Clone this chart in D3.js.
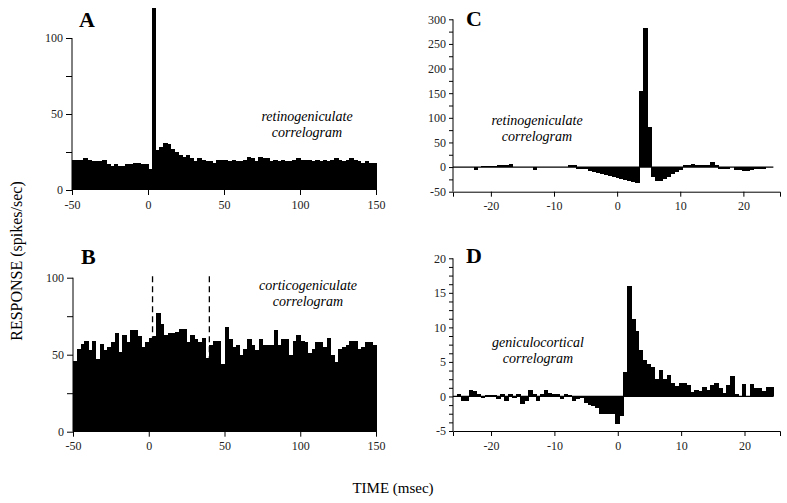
<!DOCTYPE html>
<html>
<head>
<meta charset="utf-8">
<script src="https://cdn.jsdelivr.net/npm/d3@7"></script>
<style>
  body { margin: 0; background: #fff; }
  svg text { font-family: "Liberation Serif", "DejaVu Serif", serif; }
</style>
</head>
<body>
<script>
// Panel A: retinogeniculate, 2.5 ms bins from -50 to 150
var binsA_start = -50, binsA_width = 2.5;
var valuesA = [20,20,20,21,20,19,19,19,20,17,16,17,16,16,17,17,18,18,17,17,
  14,120,26,28,31,30,27,25,23,22,
  23,21,19,21,20,19,19,18,20,20,
  20,19,20,19,19,20,22,21,19,22,
  21,21,19,20,19,20,19,19,20,21,
  20,20,20,19,20,19,20,19,20,21,
  20,19,20,21,20,19,18,19,18,18];

// Panel B: corticogeniculate, 2.5 ms bins from -50 to 150
var binsB_start = -50, binsB_width = 2.5;
var valuesB = [46,54,57,59,53,59,47,57,53,55,58,64,52,63,58,66,66,62,55,58,
  61,62,77,70,63,64,64,65,67,67,
  58,63,60,58,61,48,56,59,59,44,
  68,60,55,56,50,54,60,56,53,60,
  56,56,56,66,56,60,60,50,59,63,
  59,58,51,54,58,58,55,61,50,45,
  54,55,56,59,59,54,55,58,58,56];
var dashedB = [2.5, 40];

// Panel C: retinogeniculate (shift predictor subtracted), 0.625 ms bins
var binsC_start = -25.25, binsC_width = 0.625;
var valuesC = [0,0,0,0,-5,0,3,3,3,3,4,5,5,7,0,0,0,0,0,-5,
  0,0,0,0,0,0,0,0,5,5,-3,-3,-3,-8,-10,-12,-14,-16,-18,-20,
  -22,-24,-26,-28,-30,-32,155,283,82,-20,-28,-28,-25,-20,-15,-10,-5,4,4,7,
  5,4,4,4,10,5,-3,-3,-3,0,-6,-6,-7,-7,-5,-4,-4,-4,0,0];

// Panel D: geniculocortical, 0.625 ms bins
var binsD_start = -25.4, binsD_width = 0.625;
var valuesD = [0.4,-0.6,-0.6,1.0,0.8,0.3,-0.2,0.2,0.2,0.2,-0.3,0.4,-0.6,0.3,-0.2,0.3,-1.1,-0.6,1.0,0.4,
  -0.6,0.3,1.0,0.5,0.3,0.3,-0.4,0.3,0.2,-0.6,-0.4,-0.2,-1.0,-1.3,-1.4,-1.7,-2.6,-2.6,-2.6,-2.6,
  -4,-2.8,3.6,16,11.2,9.5,6.7,5.3,4.7,4.2,2.5,3.8,2.5,3.1,2,1.5,1.9,2,1.6,0.6,
  1.0,0.8,1.4,0.9,1.6,1.9,1.2,0.5,1.6,3,0.4,0,1.8,0.1,1.8,1.2,1.2,0.8,1.3,1.4];

var width = 787, height = 503;
var serif = "'Liberation Serif', 'DejaVu Serif', serif";

var svg = d3.select("body").append("svg")
    .attr("width", width)
    .attr("height", height);

function drawPanel(p) {
  var x = d3.scaleLinear().domain(p.xDomain).range(p.xRange);
  var y = d3.scaleLinear().domain(p.yDomain).range(p.yRange);
  var g = svg.append("g");

  // bars
  g.selectAll("rect")
    .data(p.values)
    .enter()
    .append("rect")
    .attr("x", (d, i) => x(p.start + i * p.width))
    .attr("width", (d, i) => x(p.start + (i + 1) * p.width) - x(p.start + i * p.width) + 0.5)
    .attr("y", d => y(Math.max(d, 0)))
    .attr("height", d => Math.abs(y(d) - y(0)))
    .attr("fill", "#000")
    .attr("shape-rendering", "crispEdges");

  // zero line
  if (p.zeroLine) {
    g.append("line")
      .attr("x1", x(p.xDomain[0])).attr("x2", x(p.start + p.values.length * p.width))
      .attr("y1", y(0)).attr("y2", y(0))
      .attr("stroke", "#000").attr("stroke-width", 1.2);
  }

  // y axis
  var yAxis = d3.axisLeft(y).tickValues(p.yTicks).tickSize(p.tickLen).tickPadding(3)
      .tickFormat(d => p.yLabels.indexOf(d) >= 0 ? String(d) : "");
  var ya = g.append("g")
    .attr("transform", "translate(" + p.xRange[0] + ",0)")
    .call(yAxis);
  ya.select(".domain").attr("d", "M0," + y(p.yDomain[0]) + "V" + y(p.yDomain[1]));

  // x axis
  var xa = g.append("g")
    .attr("transform", "translate(0," + y(p.yDomain[0]) + ")")
    .call(d3.axisBottom(x).tickValues(p.xTicks).tickSize(5).tickPadding(5).tickFormat(d => String(d)));
  if (!p.xLine) xa.select(".domain").remove();

  [ya, xa].forEach(function (a) {
    a.attr("font-family", serif).attr("font-size", 12);
    a.selectAll("text").attr("fill", "#222");
    a.selectAll("line, path").attr("stroke", "#000");
  });

  // dashed markers
  if (p.dashed) {
    g.selectAll(".dash")
      .data(p.dashed)
      .enter()
      .append("line")
      .attr("x1", d => x(d)).attr("x2", d => x(d))
      .attr("y1", y(101)).attr("y2", y(0))
      .attr("stroke", "#000").attr("stroke-width", 1.3)
      .attr("stroke-dasharray", "6,4");
  }

  // panel letter
  svg.append("text")
    .attr("x", p.letterPos[0]).attr("y", p.letterPos[1])
    .attr("font-size", 22).attr("font-weight", "bold")
    .text(p.letter);

  // annotation
  var t = svg.append("text")
    .attr("x", p.notePos[0]).attr("y", p.notePos[1])
    .attr("text-anchor", "middle")
    .attr("font-size", 14).attr("font-style", "italic");
  p.note.forEach(function (s, i) {
    t.append("tspan").attr("x", p.notePos[0]).attr("dy", i ? 16 : 0).text(s);
  });
}

drawPanel({
  values: valuesA, start: binsA_start, width: binsA_width,
  xDomain: [-50, 150], xRange: [72, 376],
  yDomain: [0, 100], yRange: [190, 38],
  yTicks: [0, 25, 50, 75, 100], yLabels: [0, 50, 100], tickLen: 6,
  xTicks: [-50, 0, 50, 100, 150], xLine: false,
  letter: "A", letterPos: [79, 27],
  note: ["retinogeniculate", "correlogram"], notePos: [307, 121]
});

drawPanel({
  values: valuesB, start: binsB_start, width: binsB_width,
  xDomain: [-50, 150], xRange: [73, 376],
  yDomain: [0, 100], yRange: [431.7, 277.7],
  yTicks: [0, 25, 50, 75, 100], yLabels: [0, 50, 100], tickLen: 6,
  xTicks: [-50, 0, 50, 100, 150], xLine: false,
  dashed: dashedB,
  letter: "B", letterPos: [81, 264],
  note: ["corticogeniculate", "correlogram"], notePos: [308, 290]
});

drawPanel({
  values: valuesC, start: binsC_start, width: binsC_width,
  xDomain: [-26, 25.8], xRange: [453, 780],
  yDomain: [-50, 300], yRange: [191.7, 19.3],
  yTicks: d3.range(-50, 301, 25), yLabels: d3.range(-50, 301, 50), tickLen: 4,
  xTicks: [-20, -10, 0, 10, 20], xLine: true, zeroLine: true,
  letter: "C", letterPos: [466, 26],
  note: ["retinogeniculate", "correlogram"], notePos: [537, 125]
});

drawPanel({
  values: valuesD, start: binsD_start, width: binsD_width,
  xDomain: [-26, 25.6], xRange: [453, 780],
  yDomain: [-5, 20], yRange: [431, 258.3],
  yTicks: d3.range(-5, 20.1, 1.25), yLabels: [-5, 0, 5, 10, 15, 20], tickLen: 4,
  xTicks: [-20, -10, 0, 10, 20], xLine: true, zeroLine: true,
  letter: "D", letterPos: [466, 263],
  note: ["geniculocortical", "correlogram"], notePos: [538, 347]
});

// shared axis titles
svg.append("text")
  .attr("transform", "translate(22,261) rotate(-90)")
  .attr("text-anchor", "middle")
  .attr("font-size", 16)
  .text("RESPONSE (spikes/sec)");

svg.append("text")
  .attr("x", 393).attr("y", 493)
  .attr("text-anchor", "middle")
  .attr("font-size", 15)
  .text("TIME (msec)");
</script>
</body>
</html>
